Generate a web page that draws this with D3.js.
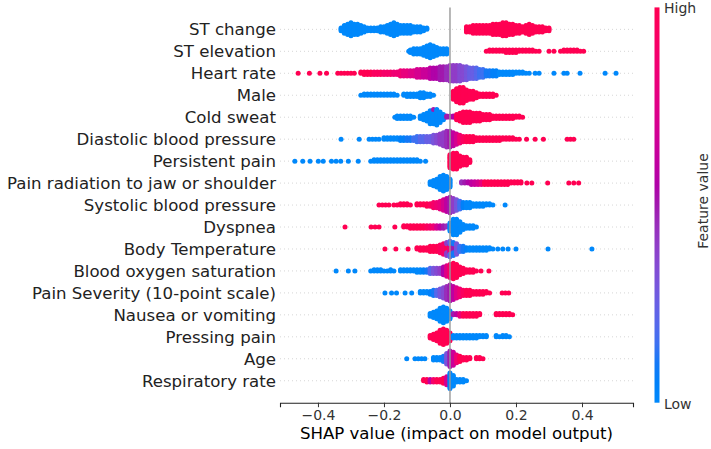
<!DOCTYPE html>
<html lang="en">
<head>
<meta charset="UTF-8">
<title>SHAP summary plot</title>
<script src="https://d3js.org/d3.v7.min.js"></script>
<style>
  body { margin: 0; background: #fff; }
  svg { display: block; font-family: 'DejaVu Sans', sans-serif; }
</style>
</head>
<body>
<svg width="711" height="449"></svg>
<script>
// feature names, top to bottom
const features = [
  "ST change", "ST elevation", "Heart rate", "Male", "Cold sweat",
  "Diastolic blood pressure", "Persistent pain", "Pain radiation to jaw or shoulder",
  "Systolic blood pressure", "Dyspnea", "Body Temperature", "Blood oxygen saturation",
  "Pain Severity (10-point scale)", "Nausea or vomiting", "Pressing pain", "Age",
  "Respiratory rate"
];

// each entry: [SHAP value, number of dots at that value, feature value 0 (low) .. 1 (high)]
const stChange = [
  [-0.33,3,0],[-0.32,7,0],[-0.31,9,0],[-0.30,11,0],[-0.29,9,0],[-0.28,9,0],[-0.27,7,0],[-0.26,5,0],
  [-0.25,3,0],[-0.24,3,0],[-0.23,3,0],[-0.22,3,0],[-0.21,5,0],[-0.20,5,0],[-0.19,7,0],[-0.18,9,0],
  [-0.17,11,0],[-0.16,9,0],[-0.15,7,0],[-0.14,7,0],[-0.13,7,0],[-0.12,7,0],[-0.11,5,0],[-0.10,5,0],
  [-0.09,5,0],[-0.08,3,0],[-0.07,2,0],
  [0.05,5,1],[0.06,5,1],[0.07,7,1],[0.08,7,1],[0.09,7,1],[0.10,7,1],[0.11,7,1],[0.12,7,1],
  [0.13,9,1],[0.14,9,1],[0.15,9,1],[0.16,11,1],[0.17,11,1],[0.18,9,1],[0.19,9,1],[0.20,7,1],
  [0.21,7,1],[0.22,5,1],[0.23,7,1],[0.24,9,1],[0.25,7,1],[0.26,5,1],[0.27,5,1],[0.28,5,1],
  [0.29,3,1],[0.30,3,1]
];
const stElevation = [
  [-0.125,1,0],[-0.12,3,0],[-0.11,5,0],[-0.10,5,0],[-0.09,5,0],[-0.08,7,0],[-0.07,9,0],[-0.06,11,0],
  [-0.05,9,0],[-0.04,7,0],[-0.03,5,0],[-0.02,5,0],[-0.01,5,0],
  [0.11,1,1],[0.12,2,1],[0.13,2,1],[0.14,2,1],[0.15,2,1],[0.16,2,1],[0.17,3,1],[0.18,3,1],
  [0.19,3,1],[0.20,3,1],[0.21,2,1],[0.22,2,1],[0.23,2,1],[0.24,2,1],[0.25,2,1],[0.26,1,1],
  [0.27,1,1],[0.30,1,1],[0.315,1,1],[0.335,1,1],[0.345,2,1],[0.355,2,1],[0.365,2,1],[0.375,2,1],
  [0.385,2,1],[0.395,1,1],[0.405,1,1]
];
const heartRate = [
  [-0.46,1,1],[-0.426,1,1],[-0.394,1,1],[-0.374,1,1],[-0.34,1,1],[-0.33,1,1],[-0.32,1,1],[-0.31,1,1],
  [-0.30,1,1],[-0.29,1,1],[-0.27,2,1],[-0.26,3,1],[-0.25,3,1],[-0.24,3,1],[-0.23,3,0.95],[-0.22,3,0.95],
  [-0.21,3,0.95],[-0.20,3,0.9],[-0.19,3,0.9],[-0.18,3,0.9],[-0.17,3,0.85],[-0.16,3,0.85],[-0.15,5,0.85],
  [-0.14,5,0.8],[-0.13,5,0.8],[-0.12,5,0.75],[-0.11,5,0.75],[-0.10,7,0.7],[-0.09,7,0.7],[-0.08,7,0.65],
  [-0.07,7,0.65],[-0.06,9,0.6],[-0.05,9,0.55],[-0.04,9,0.55],[-0.03,11,0.5],[-0.02,11,0.5],[-0.01,11,0.45],
  [0.00,13,0.45],[0.01,13,0.4],[0.02,13,0.4],[0.03,13,0.35],[0.04,11,0.35],[0.05,11,0.3],[0.06,9,0.25],
  [0.07,9,0.25],[0.08,9,0.2],[0.09,7,0.15],[0.10,7,0.15],[0.11,5,0.1],[0.12,5,0.1],[0.13,5,0.05],
  [0.14,5,0.05],[0.15,3,0],[0.16,3,0],[0.17,3,0],[0.18,3,0],[0.19,3,0],[0.20,2,0],[0.21,2,0],[0.22,2,0],
  [0.23,1,0],[0.24,1,0],[0.258,1,0],[0.27,1,0],[0.315,1,0],[0.345,1,0],[0.355,1,0],[0.394,1,0],
  [0.47,1,0],[0.503,1,0]
];
const male = [
  [-0.27,1,0],[-0.26,2,0],[-0.25,2,0],[-0.24,2,0],[-0.23,2,0],[-0.22,2,0],[-0.21,2,0],[-0.20,2,0],
  [-0.19,2,0],[-0.18,2,0],[-0.17,2,0],[-0.16,1,0],[-0.14,2,0],[-0.13,3,0],[-0.12,3,0],[-0.11,3,0],
  [-0.10,3,0],[-0.09,5,0],[-0.08,5,0],[-0.07,3,0],[-0.06,3,0],[-0.05,1,0],
  [0.01,7,1],[0.02,11,1],[0.03,13,1],[0.04,13,1],[0.05,9,1],[0.06,7,1],[0.07,7,1],[0.08,5,1],
  [0.09,3,1],[0.10,3,1],[0.11,3,1],[0.12,3,1],[0.13,3,1],[0.14,1,1]
];
const coldSweat = [
  [-0.167,1,0],[-0.16,3,0],[-0.15,3,0],[-0.14,3,0],[-0.13,3,0],[-0.12,3,0],[-0.11,1,0],
  [-0.09,3,0],[-0.08,5,0],[-0.07,7,0],[-0.06,11,0],[-0.05,11,0],[-0.05,1,0.5],[-0.04,13,0],[-0.03,9,0],
  [-0.02,5,0],[-0.01,2,0.5],[0.00,2,0.5],[0.01,2,0.55],
  [0.02,5,1],[0.03,7,1],[0.04,9,1],[0.05,9,1],[0.06,9,1],[0.07,7,1],[0.08,7,1],[0.09,7,1],
  [0.10,5,1],[0.11,5,1],[0.12,5,1],[0.13,3,1],[0.14,3,1],[0.15,3,1],[0.16,3,1],[0.17,3,1],
  [0.18,3,1],[0.19,3,1],[0.20,2,1],[0.21,2,1],[0.22,1,1]
];
const diastolic = [
  [-0.33,1,0],[-0.275,1,0],[-0.245,1,0],[-0.235,1,0],[-0.225,1,0],[-0.215,1,0],
  [-0.20,2,0],[-0.19,2,0],[-0.18,2,0],[-0.17,2,0],[-0.16,2,0],[-0.15,3,0.05],[-0.14,3,0.05],
  [-0.13,3,0.1],[-0.12,3,0.1],[-0.11,3,0.15],[-0.10,5,0.15],[-0.09,5,0.2],[-0.08,5,0.2],[-0.07,5,0.25],
  [-0.06,5,0.25],[-0.05,7,0.3],[-0.04,7,0.35],[-0.03,9,0.4],[-0.02,11,0.4],[-0.01,13,0.45],
  [0.00,13,0.5],[0.01,11,0.6],[0.02,9,0.7],[0.03,7,0.85],[0.04,5,0.95],[0.05,5,1],[0.06,5,1],
  [0.07,5,1],[0.08,3,1],[0.09,3,1],[0.10,3,1],[0.11,3,1],[0.12,3,1],[0.13,3,1],[0.14,3,1],[0.15,3,1],
  [0.16,2,1],[0.17,2,1],[0.18,2,1],[0.19,2,1],[0.20,1,1],[0.21,1,1],[0.232,1,1],[0.258,1,1],
  [0.283,1,1],[0.355,1,1],[0.365,1,1],[0.375,1,1]
];
const persistentPain = [
  [-0.47,1,0],[-0.446,1,0],[-0.424,1,0],[-0.399,1,0],[-0.384,1,0],[-0.359,1,0],[-0.345,1,0],
  [-0.331,1,0],[-0.308,1,0],[-0.278,1,0],[-0.24,1,0],[-0.23,2,0],[-0.22,2,0],[-0.21,2,0],[-0.20,2,0],
  [-0.19,2,0],[-0.18,2,0],[-0.17,2,0],[-0.16,2,0],[-0.15,2,0],[-0.14,2,0],[-0.13,2,0],[-0.12,2,0],
  [-0.11,2,0],[-0.10,2,0],[-0.09,1,0],[-0.074,1,0],
  [0.00,11,1],[0.01,13,1],[0.02,13,1],[0.03,9,1],[0.04,7,1],[0.05,7,1],[0.06,3,1]
];
const painRadiation = [
  [-0.06,3,0],[-0.05,5,0],[-0.04,7,0],[-0.03,11,0],[-0.02,13,0],[-0.01,11,0],[0.00,7,0],
  [0.035,2,0.45],[0.045,2,0.5],[0.055,2,0.55],[0.065,3,0.6],[0.075,3,0.65],[0.085,3,0.7],[0.095,3,0.8],
  [0.105,3,1],[0.115,3,1],[0.125,3,1],[0.135,3,1],[0.145,3,1],[0.155,3,1],[0.165,3,1],[0.175,3,1],
  [0.185,2,1],[0.195,2,1],[0.205,2,1],[0.215,2,1],[0.233,1,1],[0.248,1,1],[0.296,1,1],
  [0.36,1,1],[0.375,1,1],[0.39,1,1]
];
const systolic = [
  [-0.215,1,1],[-0.205,1,1],[-0.195,1,1],[-0.185,1,1],[-0.17,1,1],[-0.16,1,1],[-0.15,2,1],[-0.14,2,1],
  [-0.13,2,1],[-0.12,1,1],[-0.10,2,1],[-0.09,2,1],[-0.08,2,1],[-0.07,3,1],[-0.06,3,0.95],[-0.05,5,0.9],
  [-0.04,5,0.85],[-0.03,7,0.8],[-0.02,9,0.7],[-0.01,11,0.6],[0.00,13,0.5],[0.01,11,0.4],[0.02,9,0.3],
  [0.03,7,0.15],[0.04,5,0.05],[0.05,5,0],[0.06,5,0],[0.07,3,0],[0.08,3,0],[0.09,3,0],[0.10,3,0],
  [0.11,2,0],[0.12,2,0],[0.13,1,0],[0.167,1,0]
];
const dyspnea = [
  [-0.318,1,1],[-0.239,1,1],[-0.227,1,1],[-0.215,1,1],[-0.167,1,1],[-0.14,2,1],[-0.13,2,1],[-0.12,3,1],
  [-0.11,3,1],[-0.10,3,1],[-0.09,3,1],[-0.08,3,1],[-0.07,3,0.95],[-0.06,3,0.9],[-0.05,3,0.85],
  [-0.04,3,0.7],[-0.03,3,0.6],[-0.02,3,0.5],[-0.01,2,0.45],
  [0.00,7,0],[0.01,13,0],[0.02,13,0],[0.03,9,0],[0.04,5,0],[0.05,3,0],[0.06,3,0],[0.07,3,0],[0.08,1,0]
];
const bodyTemp = [
  [-0.197,1,1],[-0.164,1,1],[-0.127,1,1],[-0.10,2,1],[-0.09,3,1],[-0.08,3,1],[-0.07,3,1],[-0.06,5,1],
  [-0.05,5,1],[-0.04,5,1],[-0.03,7,0.95],[-0.02,9,0.9],[-0.01,6,1],[-0.01,5,0.4],[0.00,7,0.8],
  [0.00,6,0.2],[0.01,6,0.5],[0.01,5,0.1],[0.02,9,0.3],[0.03,5,0.15],[0.04,5,0.1],[0.05,3,0.05],
  [0.06,3,0],[0.07,3,0],[0.08,3,0],[0.09,3,0],[0.10,3,0],[0.11,3,0],[0.12,2,0],[0.13,1,0],
  [0.145,1,0],[0.16,1,0],[0.176,1,0],[0.20,1,0],[0.297,1,0],[0.43,1,0]
];
const bloodOxygen = [
  [-0.345,1,0],[-0.308,1,0],[-0.288,1,0],[-0.24,1,0],[-0.23,2,0],[-0.22,2,0],[-0.21,2,0],[-0.20,1,0],
  [-0.19,1,0],[-0.18,2,0],[-0.17,1,0],[-0.15,2,0],[-0.14,2,0],[-0.13,2,0],[-0.12,2,0],[-0.11,2,0],
  [-0.10,3,0],[-0.09,3,0],[-0.08,3,0.05],[-0.07,3,0.1],[-0.06,5,0.2],[-0.05,5,0.3],[-0.04,5,0.35],
  [-0.03,5,0.4],[-0.02,7,0.55],[-0.01,9,0.75],[0.00,11,0.9],[0.01,13,1],[0.02,11,1],[0.03,7,1],
  [0.04,5,1],[0.05,3,1],[0.06,3,1],[0.07,3,1],[0.08,1,1],[0.094,1,1],[0.118,1,1]
];
const painSeverity = [
  [-0.197,1,0],[-0.177,1,0],[-0.162,1,0],[-0.136,1,0],[-0.116,1,0],[-0.09,2,0],[-0.08,2,0],[-0.07,2,0],
  [-0.06,3,0.05],[-0.05,5,0.1],[-0.04,5,0.2],[-0.03,7,0.3],[-0.02,9,0.35],[-0.01,11,0.45],[0.00,13,0.5],
  [0.01,11,0.6],[0.02,9,0.75],[0.03,7,0.85],[0.04,5,0.95],[0.05,5,1],[0.06,5,1],[0.07,3,1],[0.08,3,1],
  [0.09,3,1],[0.10,3,1],[0.11,2,1],[0.12,1,1],[0.158,1,1],[0.168,1,1],[0.178,1,1]
];
const nausea = [
  [-0.06,3,0],[-0.05,5,0],[-0.04,7,0],[-0.03,11,0],[-0.02,13,0],[-0.01,11,0],[0.00,7,0],
  [0.01,2,0.5],[0.02,2,0.6],[0.03,3,0.8],[0.04,3,1],[0.05,3,1],[0.06,3,1],[0.07,3,1],[0.08,3,1],
  [0.09,2,1],[0.14,2,1],[0.15,2,1],[0.16,2,1],[0.17,2,1],[0.18,2,1],[0.19,1,1]
];
const pressingPain = [
  [-0.06,3,1],[-0.05,5,1],[-0.04,7,1],[-0.03,11,1],[-0.02,13,1],[-0.01,11,1],[0.00,7,1],
  [0.01,3,0],[0.02,3,0],[0.03,3,0],[0.04,3,0],[0.05,3,0],[0.06,3,0],[0.07,3,0],[0.08,3,0],
  [0.09,2,0],[0.10,2,0],[0.11,2,0],[0.14,2,0],[0.15,1,0],[0.16,2,0],[0.17,2,0],[0.18,1,0]
];
const age = [
  [-0.131,1,0],[-0.106,1,0],[-0.096,1,0],[-0.086,1,0],[-0.076,1,0],[-0.05,3,0],[-0.04,3,0],[-0.03,3,0],
  [-0.02,5,0.1],[-0.01,9,0.3],[0.00,13,0.5],[0.01,11,0.65],[0.02,7,0.85],[0.03,5,1],[0.04,3,1],
  [0.05,3,1],[0.06,2,1],[0.08,2,1],[0.09,2,1],[0.10,1,1]
];
const respiratoryRate = [
  [-0.08,2,1],[-0.07,3,1],[-0.06,3,0.6],[-0.05,3,0.9],[-0.04,3,1],[-0.03,3,1],[-0.02,5,1],
  [-0.01,7,0.7],[0.00,13,0.05],[0.01,9,0],[0.02,3,0],[0.03,3,0],[0.04,3,0],[0.05,1,0]
];

const rows = [stChange, stElevation, heartRate, male, coldSweat, diastolic, persistentPain,
  painRadiation, systolic, dyspnea, bodyTemp, bloodOxygen, painSeverity, nausea, pressingPain,
  age, respiratoryRate];

const xTicks = [-0.4, -0.2, 0, 0.2, 0.4];
const colorLabels = ["Low", "High"];

const svg = d3.select("svg");
const n = features.length;

const x = d3.scaleLinear().domain([-0.515, 0.5545]).range([280, 633]);
// row index 0 = bottom feature, like matplotlib
const y = d3.scaleLinear().domain([-1, n]).range([402.7, 7.4]);

// shap red_blue colormap, lch from blue to red with darker middle
function shapColor(t) {
  const L = t < 0.5 ? 54 - 28 * t : 40 + 28 * (t - 0.5);
  const C = 70 + 20 * t;
  const H = 266.93 + (380.32 - 266.93) * t;
  return d3.lch(L, C, H).formatHex();
}

// dotted row guides
svg.append("g").selectAll("line")
  .data(features)
  .join("line")
  .attr("x1", 280).attr("x2", 633)
  .attr("y1", (d, i) => y(n - 1 - i)).attr("y2", (d, i) => y(n - 1 - i))
  .attr("stroke", "#cccccc")
  .attr("stroke-width", 0.8)
  .attr("stroke-dasharray", "1,3");

// beeswarm: stack dots in each bin alternately above / below
const layerGap = 1.3;
const dots = [];
rows.forEach((row, k) => {
  const cy = y(n - 1 - k);
  const layers = new Map();
  row.forEach(([v, cnt, fv]) => {
    const key = v.toFixed(4);
    for (let j = 0; j < cnt; j++) {
      const layer = layers.get(key) || 0;
      const off = Math.ceil(layer / 2) * ((layer % 2) * 2 - 1);
      dots.push({ cx: x(v), cy: cy - off * layerGap, fv });
      layers.set(key, layer + 1);
    }
  });
});

svg.append("g").selectAll("circle")
  .data(dots)
  .join("circle")
  .attr("cx", d => d.cx)
  .attr("cy", d => d.cy)
  .attr("r", 2.5)
  .attr("fill", d => shapColor(d.fv));

// zero line
svg.append("line")
  .attr("x1", x(0)).attr("x2", x(0))
  .attr("y1", y(n)).attr("y2", y(-1))
  .attr("stroke", "#999999")
  .attr("stroke-width", 1.4);

// x axis
const xAxis = svg.append("g")
  .attr("transform", `translate(0,${y(-1)})`)
  .call(d3.axisBottom(x).tickValues(xTicks).tickFormat(d3.format(".1f")).tickSizeOuter(0).tickSize(4.5));
xAxis.select(".domain").attr("stroke", "#222").attr("stroke-width", 1.1);
xAxis.selectAll(".tick line").attr("stroke", "#333");
xAxis.selectAll(".tick text")
  .attr("fill", "#333")
  .attr("font-size", 14)
  .attr("font-family", "'DejaVu Sans', sans-serif")
  .attr("dy", "0.71em");

svg.append("text")
  .attr("x", (280 + 633) / 2)
  .attr("y", 439)
  .attr("text-anchor", "middle")
  .attr("font-size", 16.6)
  .attr("fill", "#000")
  .text("SHAP value (impact on model output)");

// feature labels
svg.append("g").selectAll("text")
  .data(features)
  .join("text")
  .attr("x", 276)
  .attr("y", (d, i) => y(n - 1 - i))
  .attr("dy", "0.36em")
  .attr("text-anchor", "end")
  .attr("font-size", 16.6)
  .attr("fill", "#222")
  .text(d => d);

// colour bar
const grad = svg.append("defs").append("linearGradient")
  .attr("id", "cbar").attr("x1", 0).attr("y1", 1).attr("x2", 0).attr("y2", 0);
grad.selectAll("stop")
  .data(d3.range(0, 1.0001, 0.05))
  .join("stop")
  .attr("offset", d => d)
  .attr("stop-color", d => shapColor(d));

svg.append("rect")
  .attr("x", 654.5).attr("y", y(n))
  .attr("width", 5).attr("height", y(-1) - y(n))
  .attr("fill", "url(#cbar)");

svg.append("text")
  .attr("x", 664).attr("y", y(-1) + 1)
  .attr("dy", "0.36em")
  .attr("font-size", 14).attr("fill", "#333")
  .text(colorLabels[0]);
svg.append("text")
  .attr("x", 664).attr("y", y(n) + 1)
  .attr("dy", "0.36em")
  .attr("font-size", 14).attr("fill", "#333")
  .text(colorLabels[1]);

svg.append("text")
  .attr("transform", `translate(708,201) rotate(-90)`)
  .attr("text-anchor", "middle")
  .attr("font-size", 14).attr("fill", "#333")
  .text("Feature value");
</script>
</body>
</html>
